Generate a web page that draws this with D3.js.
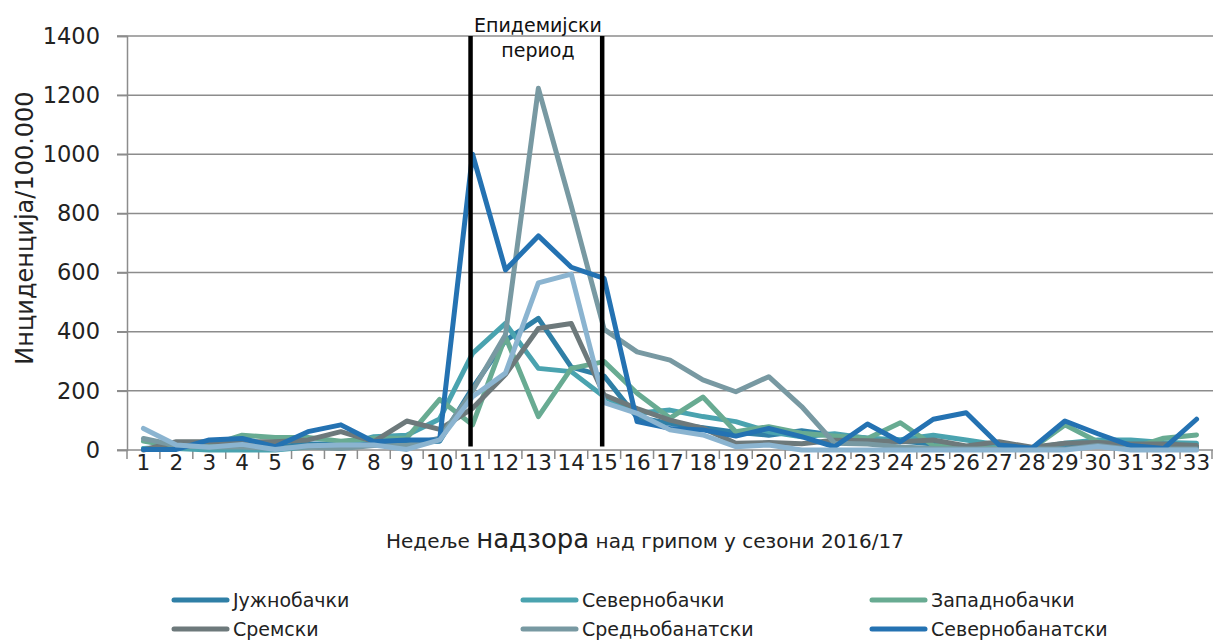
<!DOCTYPE html>
<html>
<head>
<meta charset="utf-8">
<script src="https://cdn.jsdelivr.net/npm/d3@7"></script>
<style>
  body { margin: 0; background: #fff; }
  svg { display: block; font-family: "DejaVu Sans", "Open Sans", sans-serif; }
</style>
</head>
<body>
<svg id="chart" width="1213" height="642"></svg>
<script>
// weeks of surveillance, season 2016/17
const weeks = d3.range(1, 34);

const names = ["Јужнобачки", "Севернобачки", "Западнобачки", "Сремски",
  "Средњобанатски", "Севернобанатски", "Јужнобанатски"];
const colors = ["#2f7fa6", "#4aa3af", "#68ab92", "#6d797b", "#7899a2", "#2472b2", "#8bb4d0"];

// incidence per 100.000
const juznobacki = [5, 10, 15, 20, 10, 20, 20, 20, 25, 30, 210, 370, 445, 280, 250, 110, 90, 75, 60, 50, 65, 50, 40, 30, 20, 10, 10, 5, 10, 30, 30, 5, 10];
const severnobacki = [5, 5, 0, 0, 0, 10, 15, 45, 50, 105, 327, 428, 276, 265, 180, 124, 135, 113, 96, 62, 45, 55, 40, 35, 50, 34, 17, 6, 23, 34, 34, 25, 23];
const zapadnobacki = [30, 10, 15, 50, 42, 42, 30, 40, 40, 171, 85, 383, 113, 276, 299, 192, 108, 179, 62, 79, 57, 47, 39, 92, 15, 10, 5, 5, 85, 28, 5, 40, 51];
const sremski = [0, 28, 28, 28, 28, 34, 62, 28, 98, 70, 141, 255, 411, 428, 186, 140, 101, 74, 23, 25, 21, 33, 31, 28, 34, 14, 28, 9, 23, 25, 20, 20, 15];
const sredjobanatski = [39, 15, 10, 10, 5, 10, 5, 15, 15, 40, 200, 390, 1223, 825, 408, 332, 304, 237, 197, 248, 147, 23, 20, 10, 5, 3, 3, 3, 3, 15, 3, 3, 3];
const severnobanatski = [2, 2, 34, 39, 11, 62, 85, 28, 34, 34, 1000, 609, 724, 618, 580, 96, 73, 68, 47, 73, 45, 11, 88, 28, 104, 126, 17, 6, 98, 55, 15, 5, 104];
const juznobanatski = [73, 17, 9, 19, 2, 14, 17, 17, 2, 34, 180, 260, 565, 595, 160, 124, 68, 51, 11, 17, 0, 0, 0, 0, 0, 0, 0, 0, 0, 12, 0, 0, 0];

const series = [juznobacki, severnobacki, zapadnobacki, sremski, sredjobanatski, severnobanatski, juznobanatski];
const yTicks = d3.range(0, 1401, 200);
const epidemicWeeks = [11, 15];

const svg = d3.select("#chart");

const x = d3.scaleBand().domain(weeks).range([127, 1213]);
const y = d3.scaleLinear().domain([0, 1400]).range([450, 36]);
const cx = w => x(w) + x.bandwidth() / 2;

// gridlines
svg.append("g")
  .selectAll("line")
  .data(yTicks)
  .join("line")
  .attr("x1", 117)
  .attr("x2", 1213)
  .attr("y1", d => y(d))
  .attr("y2", d => y(d))
  .attr("stroke", "#8c8c8c")
  .attr("stroke-width", 1.5);

// y axis
const yAxis = svg.append("g")
  .attr("transform", "translate(127,0)")
  .call(d3.axisLeft(y).tickValues(yTicks).tickSize(10).tickPadding(17).tickFormat(d3.format("d")));
yAxis.select(".domain").attr("stroke", "#8c8c8c").attr("stroke-width", 1.5);
yAxis.selectAll(".tick line").attr("stroke", "#8c8c8c").attr("stroke-width", 1.5);
yAxis.selectAll("text").attr("font-size", 22.5).attr("fill", "#222").attr("font-family", "DejaVu Sans");

// x axis: ticks between categories, labels centred
const xAxis = svg.append("g")
  .attr("transform", "translate(0,450)")
  .call(d3.axisBottom(x).tickSize(0).tickPadding(5));
xAxis.select(".domain").remove();
xAxis.selectAll("text").attr("font-size", 21.5).attr("fill", "#222").attr("font-family", "DejaVu Sans");
svg.append("g")
  .selectAll("line")
  .data(weeks.concat([null]))
  .join("line")
  .attr("x1", d => d === null ? 1212 : x(d))
  .attr("x2", d => d === null ? 1212 : x(d))
  .attr("y1", 450)
  .attr("y2", 459)
  .attr("stroke", "#8c8c8c")
  .attr("stroke-width", 1.5);

// series lines
const line = d3.line()
  .x((d, i) => cx(weeks[i]))
  .y(d => y(d));

svg.append("g")
  .selectAll("path")
  .data(series)
  .join("path")
  .attr("d", line)
  .attr("fill", "none")
  .attr("stroke", (d, i) => colors[i])
  .attr("stroke-width", 5)
  .attr("stroke-linejoin", "round")
  .attr("stroke-linecap", "round");

// epidemic period markers
svg.append("g")
  .selectAll("line")
  .data(epidemicWeeks)
  .join("line")
  .attr("x1", d => cx(d) - 2)
  .attr("x2", d => cx(d) - 2)
  .attr("y1", y(1400))
  .attr("y2", y(12))
  .attr("stroke", "#000")
  .attr("stroke-width", 4.5);

const note = svg.append("text")
  .attr("text-anchor", "middle")
  .attr("font-size", 19)
  .attr("fill", "#111");
note.append("tspan").attr("x", 538).attr("y", 32).text("Епидемијски");
note.append("tspan").attr("x", 538).attr("y", 57).text("период");

// axis titles
svg.append("text")
  .attr("transform", "translate(33,228) rotate(-90)")
  .attr("text-anchor", "middle")
  .attr("font-size", 24)
  .attr("fill", "#222")
  .text("Инциденција/100.000");

const xTitle = svg.append("text")
  .attr("x", 645)
  .attr("y", 548)
  .attr("text-anchor", "middle")
  .attr("fill", "#222")
  .attr("font-size", 20);
xTitle.append("tspan").text("Недеље ");
xTitle.append("tspan").attr("font-size", 26).text("надзора");
xTitle.append("tspan").text(" над грипом у сезони 2016/17");

// legend, three per row; only the first two rows fit in the picture
const legend = svg.append("g")
  .selectAll("g")
  .data(names.slice(0, 6))
  .join("g")
  .attr("transform", (d, i) => `translate(${174 + (i % 3) * 349},${600 + Math.floor(i / 3) * 29})`);
legend.append("line")
  .attr("x1", 0)
  .attr("x2", 53)
  .attr("stroke", (d, i) => colors[i])
  .attr("stroke-width", 5)
  .attr("stroke-linecap", "round");
legend.append("text")
  .attr("x", 59)
  .attr("y", 7)
  .attr("font-size", 19)
  .attr("fill", "#222")
  .text(d => d);
</script>
</body>
</html>
